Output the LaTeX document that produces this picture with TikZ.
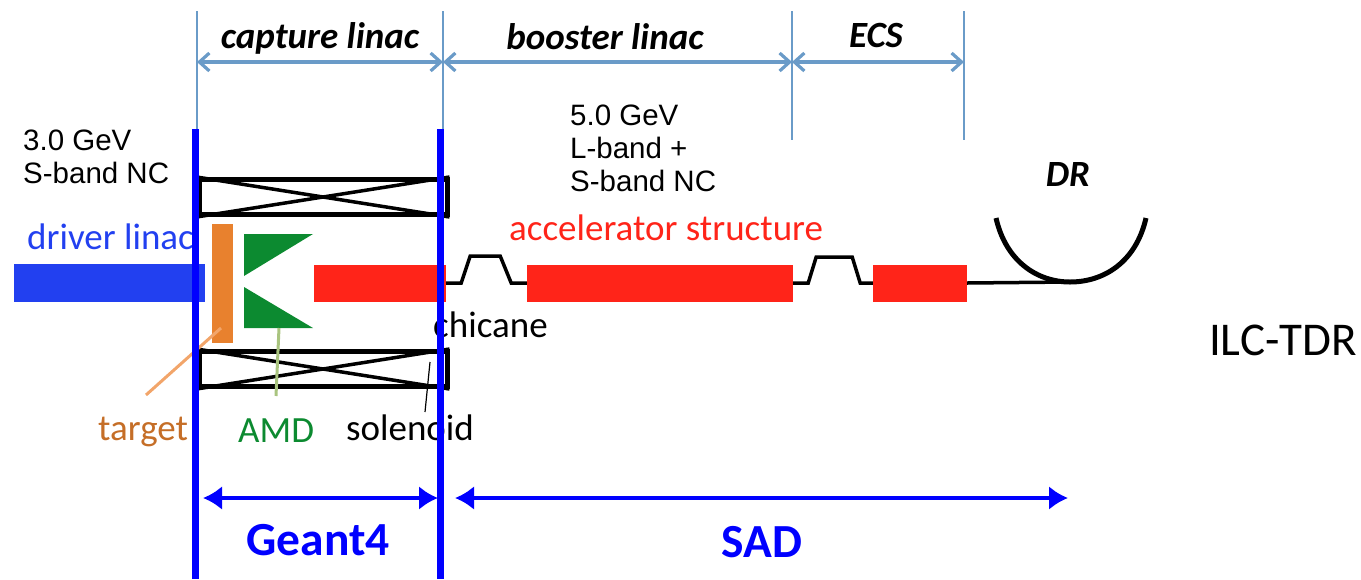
\documentclass[tikz,border=0pt]{standalone}
\usepackage{fontspec}
\setmainfont{Carlito}
\newfontfamily\arialfont{Liberation Sans}
\definecolor{DimBlue}{HTML}{6A9BC8}
\definecolor{SimBlue}{HTML}{0000FF}
\definecolor{DriverBlue}{HTML}{2240F0}
\definecolor{TargetOrange}{HTML}{E8812E}
\definecolor{LeaderOrange}{HTML}{F2A56A}
\definecolor{AmdGreen}{HTML}{0C8A30}
\definecolor{LeaderGreen}{HTML}{A9C47F}
\definecolor{StructRed}{HTML}{FF2419}
\usetikzlibrary{arrows.meta,positioning,calc}

\begin{document}
\begin{tikzpicture}[
    x=1pt,y=-1pt,
    bar/.style={
      draw=none,
      inner sep=0pt,
      anchor=center
    },
    struct/.style={bar, fill=StructRed, minimum height=37pt},
    coil/.style={
      draw=black,
      line width=5pt,
      inner sep=0pt,
      minimum width=248pt,
      minimum height=35pt
    },
    cross/.style={black, line width=3.5pt},
    dim/.style={DimBlue, line width=2.2pt},
    dimarr/.style={{Straight Barb[length=10pt,width=18pt]}-{Straight Barb[length=10pt,width=18pt]}, DimBlue, line width=3.2pt},
    simline/.style={SimBlue, line width=7pt},
    simarr/.style={{Latex[length=19pt,width=24pt]}-{Latex[length=19pt,width=24pt]}, SimBlue, line width=4.5pt},
    beam/.style={black, line width=3.5pt},
    lbl/.style={inner sep=0pt, font=\fontsize{37}{40}\selectfont},
    sec/.style={inner sep=0pt, font=\fontsize{37}{40}\selectfont\bfseries\itshape},
    gev/.style={inner sep=0pt, align=left, anchor=north west, font=\arialfont\fontsize{29.5}{33}\selectfont},
    sim/.style={inner sep=0pt, text=SimBlue, font=\fontsize{47.5}{50}\selectfont\bfseries}
  ]
    \useasboundingbox (0,0) rectangle (1361,579);

    % section marks at the top
    \coordinate (mA) at (197,11);
    \coordinate (mB) at (443,11);
    \coordinate (mC) at (792,11);
    \coordinate (mD) at (964,11);
    \draw[dim] (mA) -- ++(0,119);
    \draw[dim] (mB) -- ++(0,119);
    \draw[dim] (mC) -- ++(0,129);
    \draw[dim] (mD) -- ++(0,129);
    \draw[dimarr] (mA |- 0,62) -- (mB |- 0,62);
    \draw[dimarr] (mB |- 0,62) -- (mC |- 0,62);
    \draw[dimarr] (mC |- 0,62) -- (mD |- 0,62);
    \node[sec] (capture) at (320,38) {capture linac};
    \node[sec] (booster) at (605,37) {booster linac};
    \node[sec] (ecs) at (876,35) {ECS};
    \node[sec] (dr) at (1068,174) {DR};

    \node[gev] (sband) at (23,130) {3.0 GeV\\S-band NC};
    \node[gev] (lband) at (570,105) {5.0 GeV\\L-band +\\S-band NC};

    % solenoids
    \node[coil] (coilA) at (323,197) {};
    \node[coil] (coilB) at (323,369) {};
    \draw[cross] (coilA.north west) -- (coilA.south east);
    \draw[cross] (coilA.south west) -- (coilA.north east);
    \draw[cross] (coilB.north west) -- (coilB.south east);
    \draw[cross] (coilB.south west) -- (coilB.north east);

    % beam line
    \node[bar, fill=DriverBlue, minimum width=191pt, minimum height=38pt] (driver) at (109.5,283) {};
    \node[bar, fill=TargetOrange, minimum width=21pt, minimum height=119pt] (target) at (222.5,283.5) {};
    \node[struct, minimum width=132pt] (redA) at (380,283) {};
    \node[struct, minimum width=266pt] (redB) at (660,283) {};
    \node[struct, minimum width=94pt] (redC) at (920,283) {};
    \fill[AmdGreen] (244,234) -- (313,234) -- (244,276) -- cycle;
    \fill[AmdGreen] (244,287) -- (313,328) -- (244,328) -- cycle;
    \draw[beam] (redA.east) -- ++(15,0) -- ++(9,-27) -- ++(30,0) -- ++(11,27) -- (redB.west);
    \draw[beam] (redB.east) -- ++(15,0) -- ++(8,-26) -- ++(36,0) -- ++(8,26) -- (redC.west);
    \coordinate (ringbot) at (1070,282);
    \draw[beam] (redC.east) -- (ringbot);
    \draw[black, line width=5pt] (996,218) .. controls (1006,262) and (1038,282) .. (ringbot)
      .. controls (1104,282) and (1136,262) .. (1146,218);

    % labels with their leaders
    \node[lbl, text=DriverBlue, anchor=west] (driverlbl) at (27,237) {driver linac};
    \node[lbl, text=StructRed, anchor=west] (structlbl) at (509,228) {accelerator structure};
    \node[lbl, anchor=west] (chicane) at (433,325) {chicane};
    \node[lbl, text=TargetOrange!85!black, anchor=west] (targetlbl) at (98,432) {target};
    \node[lbl, text=AmdGreen, anchor=west] (amdlbl) at (238,431) {AMD};
    \node[lbl, anchor=west] (solenoid) at (346,428) {solenoid};
    \draw[LeaderOrange, line width=3pt] (221,328) -- (146,395);
    \draw[LeaderGreen, line width=3pt] (279,328) -- (276,396);
    \draw[black, line width=1.2pt] (430,362) -- (425,412);

    % simulation ranges
    \coordinate (simA) at (195,129);
    \coordinate (simB) at (440,129);
    \draw[simline] (simA) -- (simA |- 0,579);
    \draw[simline] (simB) -- (simB |- 0,579);
    \draw[simarr] (203,498) -- (438,498);
    \draw[simarr] (455,498) -- (1068,498);
    \node[sim] (geant) at (318,540) {Geant4};
    \node[sim] (sad) at (762,542) {SAD};
    \node[inner sep=0pt, font=\fontsize{47}{50}\selectfont] (ilc) at (1283,340) {ILC-TDR};
  \end{tikzpicture}
\end{document}
